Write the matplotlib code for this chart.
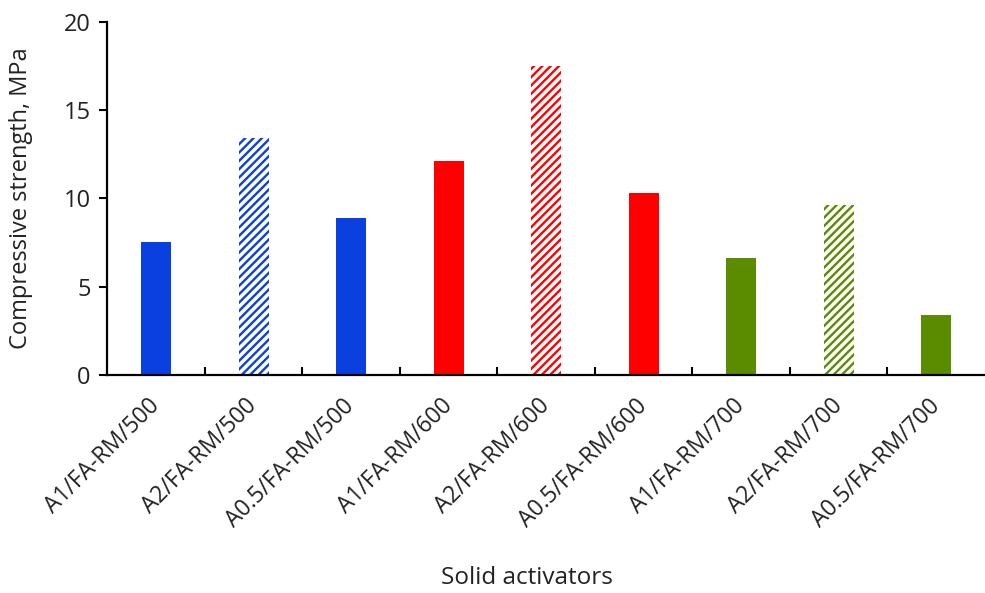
import numpy as np
import matplotlib.pyplot as plt
import matplotlib.transforms as mtransforms

labels = ["A1/FA-RM/500", "A2/FA-RM/500", "A0.5/FA-RM/500",
          "A1/FA-RM/600", "A2/FA-RM/600", "A0.5/FA-RM/600",
          "A1/FA-RM/700", "A2/FA-RM/700", "A0.5/FA-RM/700"]
strength = [7.55, 13.4, 8.9, 12.1, 17.5, 10.3, 6.6, 9.6, 3.4]
colors = ["#0a3fe0", "#0a3fe0", "#0a3fe0",
          "#ff0000", "#ff0000", "#ff0000",
          "#5b8c00", "#5b8c00", "#5b8c00"]
hatched = [False, True, False, False, True, False, False, True, False]

plt.rcParams['font.family'] = ['Open Sans', 'DejaVu Sans']
plt.rcParams['hatch.linewidth'] = 1.7

fig = plt.figure(figsize=(9.85, 5.93), dpi=100)
ax = fig.add_axes([0.109, 0.368, 0.891, 0.595])

x = np.arange(len(labels))
for i in range(len(labels)):
    if hatched[i]:
        ax.bar(x[i], strength[i], width=0.31, facecolor="white",
               edgecolor=colors[i], hatch="////", linewidth=0)
    else:
        ax.bar(x[i], strength[i], width=0.31, color=colors[i])

ax.set_xlim(-0.5, len(labels) - 0.5)
ax.set_ylim(0, 20)
ax.set_yticks([0, 5, 10, 15, 20])
ax.set_xticks(x)
ax.set_xticklabels(labels, rotation=45, ha="right", va="center",
                   rotation_mode="anchor", fontsize=16.5, color="#222222")
offset = mtransforms.ScaledTranslation(7 / 100, -3 / 100, fig.dpi_scale_trans)
for lab in ax.get_xticklabels():
    lab.set_transform(lab.get_transform() + offset)
ax.set_xticks(np.arange(len(labels) - 1) + 0.5, minor=True)
ax.tick_params(axis="x", which="major", length=0, pad=20)
ax.tick_params(axis="x", which="minor", direction="in", length=6, width=1.5)
ax.tick_params(axis="y", direction="out", length=6, width=1.5,
               labelsize=17, labelcolor="#222222", pad=6)

for s in ["top", "right"]:
    ax.spines[s].set_visible(False)
for s in ["left", "bottom"]:
    ax.spines[s].set_linewidth(1.6)

ax.set_ylabel("Compressive strength, MPa", fontsize=17, color="#222222")
ax.yaxis.set_label_coords(-0.085, 0.5)
fig.text(0.535, 0.025, "Solid activators", ha="center", va="center",
         fontsize=17.5, color="#222222")

fig.savefig("out.png", dpi=100)
